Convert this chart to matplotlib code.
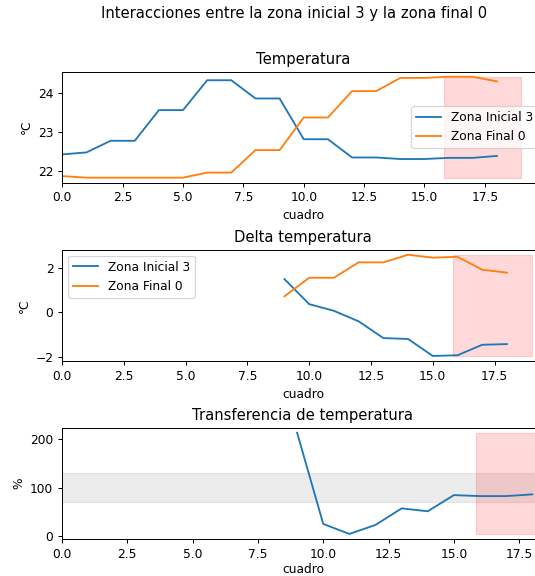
import numpy as np
import matplotlib
matplotlib.use("Agg")
import matplotlib.pyplot as plt

# ---- data ----
frames = list(range(19))
temp_inicial = [22.42, 22.47, 22.77, 22.77, 23.56, 23.56, 24.33, 24.33, 23.86, 23.86,
                22.81, 22.81, 22.34, 22.34, 22.30, 22.30, 22.33, 22.33, 22.38]
temp_final = [21.86, 21.82, 21.82, 21.82, 21.82, 21.82, 21.95, 21.95, 22.53, 22.53,
              23.37, 23.37, 24.05, 24.05, 24.39, 24.39, 24.42, 24.42, 24.30]

delta_frames = list(range(9, 19))
delta_inicial = [1.49, 0.37, 0.07, -0.40, -1.15, -1.19, -1.95, -1.92, -1.45, -1.42]
delta_final = [0.72, 1.55, 1.55, 2.24, 2.24, 2.58, 2.45, 2.49, 1.91, 1.78]

transfer_frames = list(range(9, 19))
transfer = [213.8, 24.7, 4.0, 22.7, 57.0, 51.0, 84.5, 82.5, 82.5, 86.0]

highlight_x = [15.8, 19.0]
highlight_x3 = [15.85, 19.0]
band_low, band_high = 70, 130

title = "Interacciones entre la zona inicial 3 y la zona final 0"
label_a = "Zona Inicial 3"
label_b = "Zona Final 0"

# ---- figure ----
W, H = 535, 576
DPI = 88.6
fig = plt.figure(figsize=(W / DPI, H / DPI), dpi=DPI)

def px_axes(left, right, top, bottom):
    return fig.add_axes([left / W, 1 - bottom / H, (right - left) / W, (bottom - top) / H])

R = 544
ax1 = px_axes(62.3, R, 71.7, 182.7)
ax2 = px_axes(62.0, R, 249.7, 361.0)
ax3 = px_axes(62.0, R, 427.7, 539.0)

# Plot 1
ax1.plot(frames, temp_inicial, label=label_a)
ax1.plot(frames, temp_final, label=label_b)
lo = min(min(temp_inicial), min(temp_final))
hi = max(max(temp_inicial), max(temp_final))
ax1.fill_between(highlight_x, lo, hi, color="red", alpha=0.15)
ax1.set_title("Temperatura")
ax1.set_xlabel("cuadro")
ax1.set_ylabel("°C")
ax1.legend(loc="center right")
ax1.set_xlim(0, 19.95)

# Plot 2
ax2.plot(delta_frames, delta_inicial, label=label_a)
ax2.plot(delta_frames, delta_final, label=label_b)
lo = min(min(delta_inicial), min(delta_final))
hi = max(max(delta_inicial), max(delta_final))
ax2.fill_between(highlight_x, lo, hi, color="red", alpha=0.15)
ax2.set_title("Delta temperatura")
ax2.set_xlabel("cuadro")
ax2.set_ylabel("°C")
ax2.legend(loc="upper left")
ax2.set_xlim(0, 19.5)

# Plot 3
ax3.plot(transfer_frames, transfer)
ax3.axhspan(band_low, band_high, color="gray", alpha=0.15)
ax3.fill_between(highlight_x3, min(transfer), max(transfer), color="red", alpha=0.15)
ax3.set_title("Transferencia de temperatura")
ax3.set_xlabel("cuadro", labelpad=2.2)
ax3.set_ylabel("%")
ax3.set_xlim(0, 18.45)

fig.suptitle(title, x=294 / W, y=1 - 6 / H, va="top", fontsize=12)

fig.savefig("out.png", dpi=DPI)
